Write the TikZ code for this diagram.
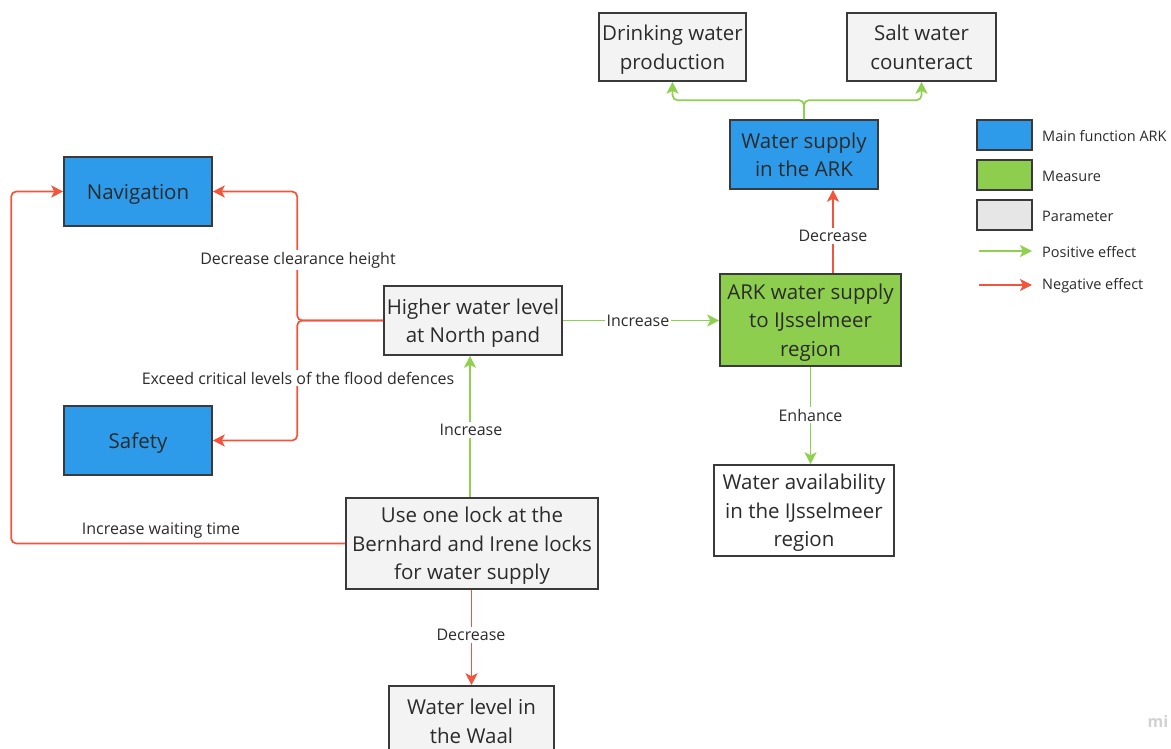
\documentclass[tikz,border=0pt]{standalone}
\usepackage{fontspec}
\setmainfont{Open Sans}
\usetikzlibrary{arrows.meta}

\definecolor{fnblue}{HTML}{2D9BEA}
\definecolor{msgreen}{HTML}{8DCE4E}
\definecolor{prgray}{HTML}{F3F3F3}
\definecolor{lggray}{HTML}{E6E6E6}
\definecolor{edgedark}{HTML}{3A3A3A}
\definecolor{txtdark}{HTML}{2B2B2B}
\definecolor{posline}{HTML}{8FD14F}
\definecolor{negline}{HTML}{F2553B}

\tikzset{
  box/.style={draw=edgedark, line width=1.6pt, rectangle, inner sep=0pt,
    align=center, text=txtdark, font=\fontsize{20.5}{28.5}\selectfont,
    text depth=0pt},
  mainfn/.style={box, fill=fnblue},
  measure/.style={box, fill=msgreen},
  param/.style={box, fill=prgray},
  plain/.style={box, fill=white},
  conn/.style={line width=1.7pt, rounded corners=5pt,
    -{Stealth[length=12pt,width=12pt,inset=3pt]}},
  posarrow/.style={conn, draw=posline, color=posline},
  negarrow/.style={conn, draw=negline, color=negline},
  lbl/.style={fill=white, inner sep=2pt, text=txtdark,
    font=\fontsize{16}{18}\selectfont},
  lgtext/.style={anchor=west, inner sep=0pt, text=txtdark,
    font=\fontsize{14.5}{16}\selectfont},
  lgbox/.style={draw=edgedark, line width=1.6pt, minimum width=55pt,
    minimum height=30pt, inner sep=0pt}
}

\begin{document}
\begin{tikzpicture}[x=1pt, y=-1pt]
\useasboundingbox[fill=white] (0,0) rectangle (1171,749);

% boxes
\node[param, minimum width=147pt, minimum height=68pt] (drink) at (672.5,47) {Drinking water\\production};
\node[param, minimum width=149pt, minimum height=68pt] (salt) at (921.5,47) {Salt water\\counteract};
\node[mainfn, minimum width=148pt, minimum height=69pt] (wsup) at (804,154.5) {Water supply\\in the ARK};
\node[mainfn, minimum width=148pt, minimum height=69pt] (nav) at (138,191.5) {Navigation};
\node[mainfn, minimum width=148pt, minimum height=69pt] (safety) at (138,440.5) {Safety};
\node[param, minimum width=178pt, minimum height=69pt] (higher) at (473,320.5) {Higher water level\\at North pand};
\node[measure, minimum width=181pt, minimum height=92pt] (ark) at (810.5,320) {ARK water supply\\to IJsselmeer\\region};
\node[plain, minimum width=180pt, minimum height=91pt] (avail) at (804,510.5) {Water availability\\in the IJsselmeer\\region};
\node[param, minimum width=252pt, minimum height=91pt] (lock) at (472,543.5) {Use one lock at the\\Bernhard and Irene locks\\for water supply};
\node[param, minimum width=165pt, minimum height=70pt] (waal) at (471.5,721) {Water level in\\the Waal};

% connectors
\draw[posarrow] (wsup.north) -- ++(0,-19) -| (drink.south);
\draw[posarrow] (wsup.north) -- ++(0,-19) -| (salt.south);
\draw[negarrow] ([xshift=22.5pt]ark.north) -- ([xshift=22.5pt]ark.north |- wsup.south);
\draw[posarrow] (higher.east) -- (ark.west |- higher.east);
\draw[posarrow] (ark.south) -- (ark.south |- avail.north);
\draw[posarrow] ([xshift=-2pt]lock.north) -- ([xshift=-2pt]lock.north |- higher.south);
\draw[negarrow] (higher.west) -- ++(-86,0) |- (nav.east);
\draw[negarrow] (higher.west) -- ++(-86,0) |- (safety.east);
\draw[negarrow] (lock.west) -- ++(-334,0) |- (nav.west);
\draw[negarrow] ([xshift=-0.5pt]lock.south) -- ([xshift=-0.5pt]lock.south |- waal.north);

% connector labels
\node[lbl] (lbdec1) at (833,236) {Decrease};
\node[lbl] (lbinc1) at (638,321) {Increase};
\node[lbl] (lbenh) at (810.5,415) {Enhance};
\node[lbl] (lbinc2) at (471,430) {Increase};
\node[lbl] (lbclr) at (298,260) {Decrease clearance height};
\node[lbl] (lbexc) at (298,378) {Exceed critical levels of the flood defences};
\node[lbl, fill=none] (lbwait) at (161,531) {Increase waiting time};
\node[lbl] (lbdec2) at (471,635) {Decrease};

% legend
\node[lgbox, fill=fnblue] (lgmain) at (1004.5,135) {};
\node[lgbox, fill=msgreen] (lgmeas) at (1004.5,175) {};
\node[lgbox, fill=lggray] (lgpar) at (1004.5,215) {};
\node[lgtext] (lgmaint) at (1042,136) {Main function ARK};
\node[lgtext] (lgmeast) at (1042,176) {Measure};
\node[lgtext] (lgpart) at (1042,216) {Parameter};
\coordinate (lgposa) at (979,251);
\coordinate (lgposb) at (1032,251);
\coordinate (lgnega) at (979,285);
\coordinate (lgnegb) at (1032,285);
\draw[posarrow] (lgposa) -- (lgposb);
\draw[negarrow] (lgnega) -- (lgnegb);
\node[lgtext] (lgpost) at (1042,252) {Positive effect};
\node[lgtext] (lgnegt) at (1042,286) {Negative effect};

% corner mark
\node[text=black!18, font=\fontsize{16}{18}\selectfont\bfseries] (mark) at (1158,721) {mi};
\end{tikzpicture}
\end{document}
